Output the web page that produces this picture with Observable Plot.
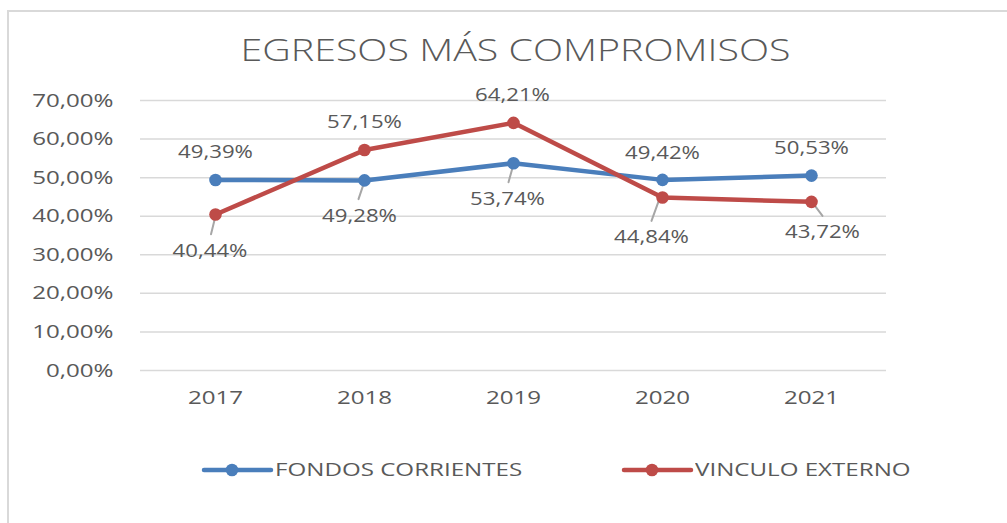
<!DOCTYPE html>
<html>
<head>
<meta charset="utf-8">
<script src="https://cdn.jsdelivr.net/npm/d3@7"></script>
<script src="https://cdn.jsdelivr.net/npm/@observablehq/plot@0.6"></script>
<style>
  html, body { margin: 0; padding: 0; background: #fff; }
  #frame { position: relative; width: 1007px; height: 523px; overflow: hidden; font-family: "Open Sans", sans-serif; color: #595959; }
  #border { position: absolute; left: 7px; top: 10px; right: -10px; bottom: -10px; border-left: 2px solid #d9d9d9; border-top: 2px solid #d9d9d9; }
  #title { position: absolute; left: 12px; width: 1007px; top: 34px; text-align: center; font-size: 31px; line-height: 1; font-weight: 300; white-space: nowrap; }
  #title span { display: inline-block; transform: scaleX(1.27); transform-origin: center; }
  #chart { position: absolute; left: 0; top: 80px; }
  .sw { position: absolute; top: 460px; }
  .lt { position: absolute; top: 460px; font-size: 19px; line-height: 1; white-space: nowrap; transform: scaleX(1.27); transform-origin: left center; }
</style>
</head>
<body>
<div id="frame">
  <div id="border"></div>
  <div id="title"><span>EGRESOS MÁS COMPROMISOS</span></div>
  <div id="chart"></div>
  <div id="legend"></div>
</div>
<script>
// ---- data ----
const years = ["2017", "2018", "2019", "2020", "2021"];
const fondosCorrientes = [49.39, 49.28, 53.74, 49.42, 50.53];
const vinculoExterno = [40.44, 57.15, 64.21, 44.84, 43.72];
const seriesNames = ["FONDOS CORRIENTES", "VINCULO EXTERNO"];
const yTicks = [0, 10, 20, 30, 40, 50, 60, 70];

// ---- styling ----
const seriesColors = ["#4a7ebb", "#be4b48"];
const textColor = "#595959";
// data label placement, pixel offsets from each point
const labelOffsets = [
  [[0, -28], [-5, 35.5], [-6, 35.5], [0, -27.3], [0, -28]],
  [[-5.5, 36.5], [0, -27.5], [-1, -27.7], [-11, 40], [11, 30.7]]
];
// leader lines: [startDx, startDy, endDx, endDy] in pixels from the point
const leaderLines = [
  [null, [0, 1, -6, 18.7], [0, 1, -5, 19], null, null],
  [[0, 1.5, -4.5, 19.7], null, null, [-2.6, 0, -11, 23.3], [1, 0.7, 11, 14]]
];

const fmt = v => v.toFixed(2).replace(".", ",") + "%";
const seriesValues = [fondosCorrientes, vinculoExterno];
const rows = [];
seriesValues.forEach((vals, s) => years.forEach((yr, i) => rows.push({series: seriesNames[s], year: yr, value: vals[i], s, i})));

const marks = [Plot.ruleY(yTicks, {stroke: "#d9d9d9", strokeWidth: 1.5})];
rows.forEach(d => {
  const L = leaderLines[d.s][d.i];
  if (!L) return;
  const [sx, sy, ex, ey] = L;
  const len = Math.hypot(ex - sx, ey - sy);
  const rot = Math.atan2(ex - sx, -(ey - sy)) * 180 / Math.PI;
  marks.push(Plot.vector([d], {x: "year", y: "value", dx: sx, dy: sy, length: len, rotate: rot, anchor: "start", r: 0, stroke: "#a6a6a6", strokeWidth: 2}));
});
seriesNames.forEach((name, s) => {
  const sub = rows.filter(d => d.s === s);
  marks.push(Plot.line(sub, {x: "year", y: "value", stroke: seriesColors[s], strokeWidth: 4.5, strokeLinejoin: "round", strokeLinecap: "round"}));
  marks.push(Plot.dot(sub, {x: "year", y: "value", r: 6.3, fill: seriesColors[s], stroke: "none"}));
});
rows.forEach(d => {
  const [dx, dy] = labelOffsets[d.s][d.i];
  marks.push(Plot.text([d], {x: "year", y: "value", text: r => fmt(r.value), dx, dy, fill: textColor, fontSize: 18.5}));
});

const plot = Plot.plot({
  width: 1007,
  height: 340,
  marginLeft: 140,
  marginRight: 121,
  marginTop: 20,
  marginBottom: 50,
  style: {fontFamily: "'Open Sans', sans-serif", fontSize: "18px", color: textColor, background: "transparent", overflow: "visible"},
  x: {type: "point", domain: years, padding: 0.5, label: null, tickSize: 0, tickPadding: 20},
  y: {domain: [0, 70], ticks: yTicks, tickFormat: fmt, label: null, tickSize: 0, tickPadding: 27},
  marks
});
document.getElementById("chart").appendChild(plot);

// widen glyphs horizontally to match the stretched reference
const svg = plot.tagName.toLowerCase() === "svg" ? plot : plot.querySelector("svg");
svg.querySelectorAll("text").forEach(t => {
  let s = 1.2;
  const g = t.closest("g[aria-label]");
  const lab = g ? g.getAttribute("aria-label") : "";
  if (lab.startsWith("x-axis")) { s = 1.27; t.style.fontSize = "19px"; }
  else if (lab.startsWith("y-axis")) { s = 1.27; t.style.fontSize = "19px"; }
  const x = t.getAttribute("x") || 0;
  const tr = t.getAttribute("transform") || "";
  t.setAttribute("x", 0);
  t.setAttribute("transform", `${tr} translate(${x},0) scale(${s},1)`);
});

// legend
const legend = document.getElementById("legend");
const legendItems = [
  {swatchLeft: 200, textLeft: 275},
  {swatchLeft: 620, textLeft: 695}
];
seriesNames.forEach((name, s) => {
  const it = legendItems[s];
  const sw = document.createElementNS("http://www.w3.org/2000/svg", "svg");
  sw.setAttribute("class", "sw");
  sw.setAttribute("width", 76);
  sw.setAttribute("height", 20);
  sw.style.left = it.swatchLeft + "px";
  sw.innerHTML = `<line x1="4" y1="10" x2="71" y2="10" stroke="${seriesColors[s]}" stroke-width="4.5" stroke-linecap="round"/><circle cx="32" cy="10" r="6.3" fill="${seriesColors[s]}"/>`;
  legend.appendChild(sw);
  const tx = document.createElement("div");
  tx.className = "lt";
  tx.style.left = it.textLeft + "px";
  tx.textContent = name;
  legend.appendChild(tx);
});
</script>
</body>
</html>
